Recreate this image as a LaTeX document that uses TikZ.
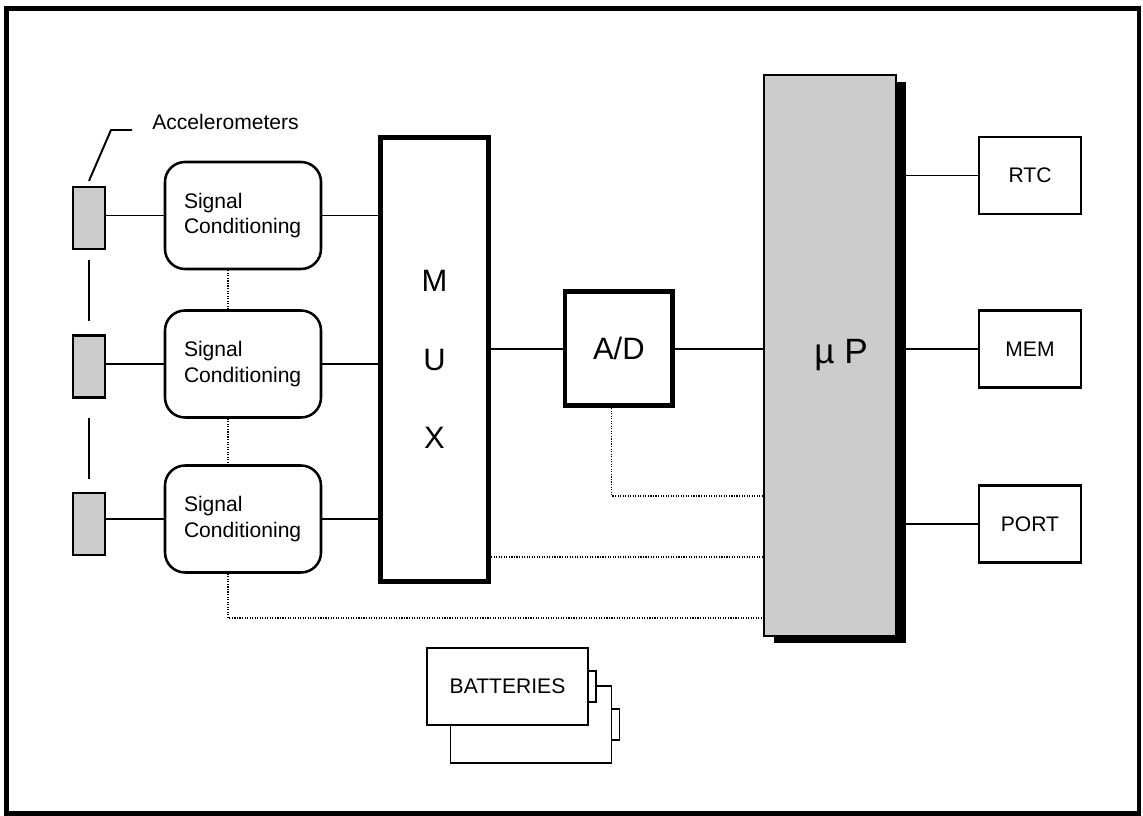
\documentclass[tikz,border=0pt]{standalone}
\usepackage{fontspec}
\setmainfont{Liberation Sans}
\usepackage{tikz}
\usetikzlibrary{calc,positioning,shadows}

\begin{document}
\begin{tikzpicture}[
	sensor/.style={rectangle, draw, line width=1.6pt, fill=gray!40, minimum width=0.8cm, minimum height=1.55cm, inner sep=0},
	cond/.style={rectangle, draw, rounded corners=0.5cm, line width=1.8pt, minimum width=3.9cm, minimum height=2.675cm, text width=2.95cm, inner xsep=0.475cm, align=left, font=\fontsize{15}{18}\selectfont},
	heavy/.style={rectangle, draw, line width=3.5pt, inner sep=0, font=\fontsize{22}{26}\selectfont},
	side/.style={rectangle, draw, line width=1.6pt, minimum width=2.55cm, minimum height=1.925cm, font=\fontsize{15}{18}\selectfont},
	cell/.style={rectangle, draw, fill=white, line width=1.2pt, minimum width=4.025cm, minimum height=1.925cm, font=\fontsize{15}{18}\selectfont},
	tip/.style={rectangle, draw, fill=white, line width=1.2pt, minimum width=0.2cm, minimum height=0.775cm, inner sep=0},
	wire/.style={line width=1.4pt},
	ctrl/.style={densely dotted, line width=0.8pt}
]
	\useasboundingbox (0,0) rectangle (28.575,20.375);
	\draw[line width=3.2pt] (0.1625,0.0375) rectangle (28.475,20.1625);

	% accelerometers and conditioning
	\node[sensor] (sens1) at (2.225,14.925) {};
	\node[sensor] (sens2) at (2.225,11.2125) {};
	\node[sensor] (sens3) at (2.225,7.275) {};
	\node[anchor=south west, inner sep=0, font=\fontsize{15}{18}\selectfont] (acc) at (3.8,17.125) {Accelerometers};

	\node[cond] (cond1) at (6.075,14.9875) {Signal\\Conditioning};
	\node[cond] (cond2) at (6.075,11.275) {Signal\\Conditioning};
	\node[cond] (cond3) at (6.075,7.4) {Signal\\Conditioning};

	\draw[wire] ([yshift=1.25mm]sens1.north) -- ([xshift=-1.025cm]acc.south west) -- ([xshift=-0.5cm]acc.south west);
	\draw[wire, shorten <=0.25cm, shorten >=0.325cm] (sens1) -- (sens2);
	\draw[wire, shorten <=0.475cm, shorten >=0.325cm] (sens2) -- (sens3);

	\draw[wire] (cond1.west) -- (cond1.west -| sens1.east);
	\draw[wire] (cond2.west) -- (cond2.west -| sens2.east);
	\draw[wire] (cond3.west) -- (cond3.west -| sens3.east);

	\draw[ctrl] ([xshift=-3.75mm]cond1.south) -- ([xshift=-3.75mm]cond2.north);
	\draw[ctrl] ([xshift=-3.75mm]cond2.south) -- ([xshift=-3.75mm]cond3.north);

	% mux, converter, processor
	\node[heavy, minimum width=2.7cm, minimum height=11.09cm, align=center, font=\fontsize{22}{56}\selectfont] (mux) at (10.8625,11.39) {M\\U\\X};
	\node[heavy, minimum width=2.69cm, minimum height=2.85cm] (ad) at (15.47,11.66) {A/D};
	\node[rectangle, draw, line width=1.4pt, fill=gray!40, minimum width=3.3cm, minimum height=14.025cm,
		drop shadow={shadow xshift=0.25cm, shadow yshift=-0.175cm, fill=black, opacity=1},
		font=\fontsize{25}{30}\selectfont] (cpu) at (20.75,11.4875) {\hspace*{0.55cm}µ P};

	\draw[wire] (cond1.east) -- (cond1.east -| mux.west);
	\draw[wire] (cond2.east) -- (cond2.east -| mux.west);
	\draw[wire] (cond3.east) -- (cond3.east -| mux.west);
	\draw[wire] (ad.west) -- (ad.west -| mux.east);
	\draw[wire] (ad.east) -- (ad.east -| cpu.west);

	\coordinate (muxtap) at ([yshift=2cm]cpu.south west);
	\draw[ctrl] ([xshift=-1.75mm]ad.south) |- ([yshift=3.525cm]cpu.south west);
	\draw[ctrl] (muxtap) -- (muxtap -| mux.east);
	\draw[ctrl] ([xshift=-3.75mm]cond3.south) |- ([yshift=4.75mm]cpu.south west);

	% peripherals
	\node[side] (rtc) at (25.75,15.9875) {RTC};
	\node[side] (mem) at (25.75,11.65) {MEM};
	\node[side] (port) at (25.75,7.275) {PORT};
	\draw[wire] (rtc.west) -- (rtc.west -| cpu.east);
	\draw[wire] (mem.west) -- (mem.west -| cpu.east);
	\draw[wire] (port.west) -- (port.west -| cpu.east);

	% batteries
	\node[cell] (batB) at (13.275,2.2625) {};
	\node[tip, right=-1.2pt of batB] (tipB) {};
	\node[cell] (batA) at (12.6875,3.2125) {BATTERIES};
	\node[tip, right=-1.2pt of batA] (tipA) {};
\end{tikzpicture}
\end{document}
